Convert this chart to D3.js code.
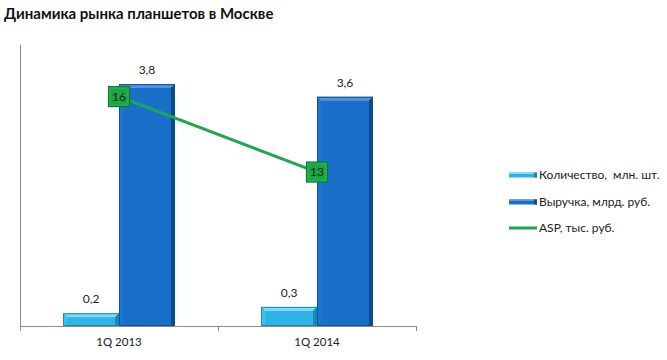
<!DOCTYPE html>
<html><head><meta charset="utf-8">
<script src="https://cdn.jsdelivr.net/npm/d3@7"></script>
<style>body{margin:0;background:#fff;}svg{display:block;font-family:Lato,"Open Sans",sans-serif;}text{white-space:pre;}</style>
</head><body><svg id="c" width="667" height="360"></svg>
<script>
const title = "Динамика рынка планшетов в Москве";
const categories = ["1Q 2013", "1Q 2014"];
const quantity = [0.2, 0.3];          // Количество, млн. шт.
const revenue = [3.8, 3.6];           // Выручка, млрд. руб.
const asp = [16, 13];                 // ASP, тыс. руб.
const seriesNames = ["Количество,  млн. шт.", "Выручка, млрд. руб.", "ASP, тыс. руб."];
const fmt = v => String(v).replace(".", ",");

const svg = d3.select("#c");
const m = {l: 20, r: 251, t: 44, b: 34};
const W = 667, H = 360;
const x0 = d3.scaleBand().domain(categories).range([m.l, W - m.r]);
const x1 = d3.scaleBand().domain(["q", "r"]).range([0, x0.bandwidth()]).paddingInner(0).paddingOuter(0.77);
const y = d3.scaleLinear().domain([0, 4.43]).range([H - m.b, m.t]);
const y2 = d3.scaleLinear().domain([6.88, 18.09]).range([H - m.b, m.t]);

svg.append("text").attr("x", 4).attr("y", 19).attr("font-size", 15).attr("font-weight", 700)
  .attr("fill", "#111").text(title);

// axes
svg.append("g").attr("transform", `translate(${m.l},0)`)
  .call(d3.axisLeft(y).tickValues([]).tickSizeOuter(0))
  .call(g => g.select(".domain").attr("stroke", "#8c8c8c").attr("stroke-width", 1));
const xa = svg.append("g").attr("transform", `translate(0,${H - m.b})`)
  .call(d3.axisBottom(x0).tickSize(0).tickSizeOuter(0).tickPadding(12));
xa.select(".domain").attr("stroke", "#8c8c8c");
xa.selectAll("text").attr("font-size", 11.5).attr("fill", "#222").attr("font-family", "Lato,sans-serif");
// category boundary ticks
const bounds = [m.l, ...categories.map(c => x0(c) + x0.bandwidth())];
svg.selectAll("line.tk").data(bounds).join("line").attr("class", "tk")
  .attr("x1", d => d + 0.5).attr("x2", d => d + 0.5)
  .attr("y1", H - m.b).attr("y2", H - m.b + 5).attr("stroke", "#8c8c8c");

function bar(g, x, w, y0, y1, c) {
  const h = y1 - y0, b = Math.min(4, h / 3);
  g.append("rect").attr("x", x).attr("y", y0).attr("width", w).attr("height", h).attr("fill", c.main);
  g.append("path").attr("d", `M${x},${y0}L${x + w},${y0}L${x + w - b},${y0 + b}L${x + b},${y0 + b}Z`).attr("fill", c.top);
  g.append("path").attr("d", `M${x + w},${y0}L${x + w},${y1}L${x + w - b},${y1}L${x + w - b},${y0 + b}Z`).attr("fill", c.side);
  g.append("path").attr("d", `M${x},${y0}L${x + b},${y0 + b}L${x + b},${y1}L${x},${y1}Z`).attr("fill", c.left);
  g.append("rect").attr("x", x + 0.5).attr("y", y0 + 0.5).attr("width", w - 1).attr("height", h - 1)
    .attr("fill", "none").attr("stroke", c.edge).attr("stroke-width", 1);
}
const cq = {main: "#2db3e6", top: "#7fd9f7", side: "#1789b8", left: "#3fc0ee", edge: "#1a86b3"};
const cr = {main: "#1a6fcb", top: "#4f95e0", side: "#0c4a90", left: "#1d76d4", edge: "#0f4f97"};

const gb = svg.append("g");
categories.forEach((c, i) => {
  const xq = x0(c) + x1("q"), xr = x0(c) + x1("r"), w = x1.bandwidth();
  bar(gb, xq, w, y(quantity[i]), y(0), cq);
  bar(gb, xr, w, y(revenue[i]), y(0), cr);
  gb.append("text").attr("x", xq + w / 2).attr("y", y(quantity[i]) - 10).attr("text-anchor", "middle")
    .attr("font-size", 12).attr("fill", "#222").text(fmt(quantity[i]));
  gb.append("text").attr("x", xr + w / 2).attr("y", y(revenue[i]) - 10).attr("text-anchor", "middle")
    .attr("font-size", 12).attr("fill", "#222").text(fmt(revenue[i]));
});

// ASP line
const lx = c => x0(c) + x0.bandwidth() / 2;
svg.append("path").datum(asp)
  .attr("d", d3.line().x((d, i) => lx(categories[i])).y(d => y2(d)))
  .attr("fill", "none").attr("stroke", "#1fa652").attr("stroke-width", 3);
const mk = svg.selectAll("g.mk").data(asp).join("g").attr("class", "mk")
  .attr("transform", (d, i) => `translate(${lx(categories[i])},${y2(d)})`);
mk.append("rect").attr("x", -10.5).attr("y", -10).attr("width", 21).attr("height", 20)
  .attr("fill", "#22b14c").attr("stroke", "#0e7a34").attr("stroke-width", 1.2);
mk.append("rect").attr("x", -8).attr("y", -7.5).attr("width", 16).attr("height", 15)
  .attr("fill", "#1ea447");
mk.append("text").attr("text-anchor", "middle").attr("dy", "0.36em").attr("font-size", 12)
  .attr("fill", "#0b2a12").text(d => d);

// legend
const lg = svg.append("g");
const ly = [175, 202, 228];
[cq, cr].forEach((c, i) => {
  lg.append("rect").attr("x", 509).attr("y", ly[i] - 2.5).attr("width", 28).attr("height", 5).attr("fill", c.main);
  lg.append("rect").attr("x", 509).attr("y", ly[i] - 2.5).attr("width", 28).attr("height", 1.5).attr("fill", c.top);
  lg.append("rect").attr("x", 534).attr("y", ly[i] - 2.5).attr("width", 3).attr("height", 5).attr("fill", c.side);
});
lg.append("line").attr("x1", 509).attr("x2", 537).attr("y1", ly[2]).attr("y2", ly[2])
  .attr("stroke", "#1fa652").attr("stroke-width", 3);
seriesNames.forEach((s, i) => {
  lg.append("text").attr("x", 539).attr("y", ly[i]).attr("dy", "0.35em").attr("font-size", 12)
    .attr("fill", "#222").text(s);
});
</script></body></html>
